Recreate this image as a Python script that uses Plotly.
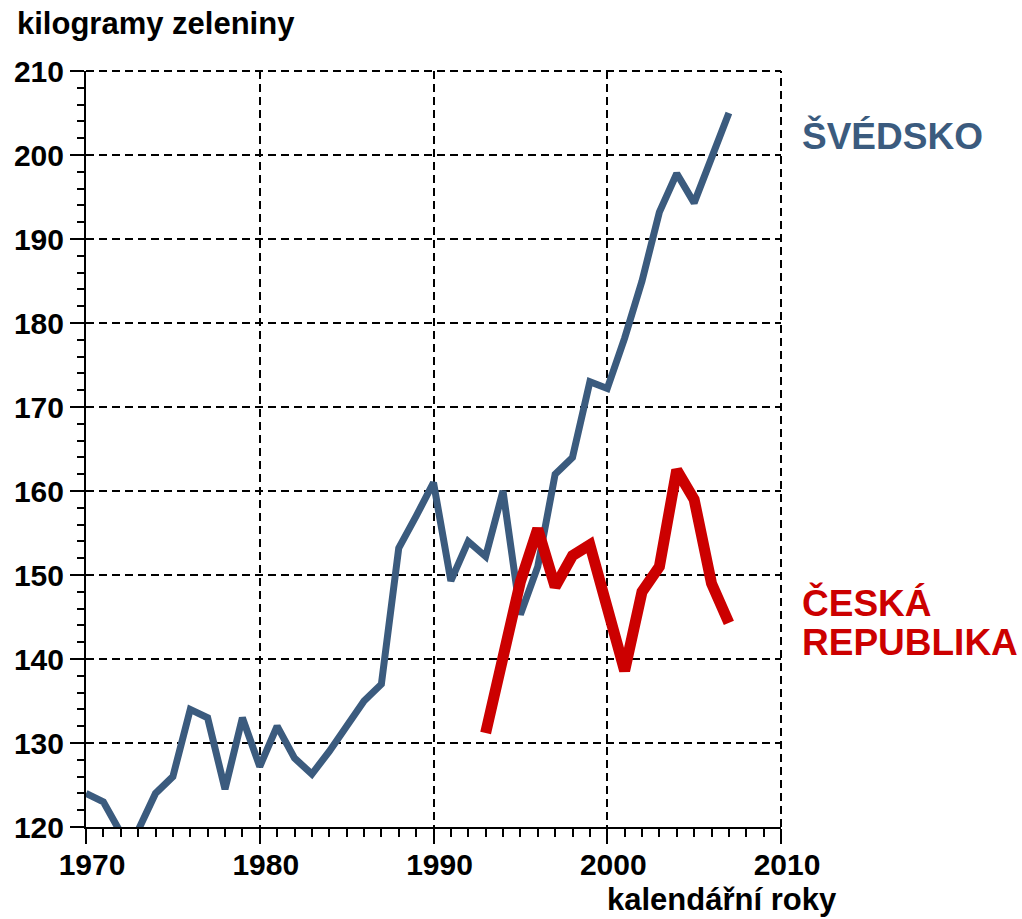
import plotly.graph_objects as go

# Annual vegetable consumption per person (kg)
years_se = list(range(1970, 2008))
sweden = [124, 123, 119.3, 119.6, 124, 126, 134, 133, 124.5, 133,
          127.2, 132, 128.2, 126.3, 129, 132, 135, 137, 153.2, 157,
          161, 149.3, 154, 152.2, 160, 145.3, 151, 162, 164, 173,
          172.2, 178.2, 185, 193.2, 197.8, 194.3, 199.8, 205]

years_cz = list(range(1993, 2008))
czech = [131.2, 140, 149.2, 155.5, 148.6, 152.3, 153.6, 146.1, 138.6, 148,
         151, 162.5, 159, 149, 144.3]

x_ticks = [1970, 1980, 1990, 2000, 2010]
y_ticks = [120, 130, 140, 150, 160, 170, 180, 190, 200, 210]

SE_COLOR = "#3b5b7e"
CZ_COLOR = "#cc0000"
FONT = "Liberation Sans, Arial, sans-serif"
DASH = "8px,5px"

fig = go.Figure()
fig.add_trace(go.Scatter(x=years_se, y=sweden, mode="lines",
                         line=dict(color=SE_COLOR, width=7), showlegend=False))
fig.add_trace(go.Scatter(x=years_cz, y=czech, mode="lines",
                         line=dict(color=CZ_COLOR, width=11), showlegend=False))

grid = dict(showgrid=True, gridcolor="black", gridwidth=2, griddash=DASH,
            showline=True, linecolor="black", linewidth=2, zeroline=False,
            ticks="outside", tickcolor="black", tickwidth=2,
            tickfont=dict(family=FONT, size=30, color="black", weight="bold"),
            automargin=False)

fig.update_xaxes(range=[1970, 2010], tickvals=x_ticks, ticktext=[str(v) for v in x_ticks],
                 ticklen=15, ticklabelshift=6, ticklabelstandoff=-5,
                 minor=dict(dtick=1, ticks="outside", ticklen=8, tickcolor="black",
                            tickwidth=1.5, showgrid=False),
                 **grid)
fig.update_yaxes(range=[120, 210], tickvals=y_ticks, ticktext=[str(v) for v in y_ticks],
                 ticklen=14,
                 minor=dict(dtick=2, ticks="outside", ticklen=7, tickcolor="black",
                            tickwidth=1.5, showgrid=False),
                 **grid)

# grid lines along the top and right edges of the plotting area (unclipped)
fig.add_shape(type="line", xref="paper", yref="paper", x0=0, x1=1, y0=1, y1=1,
              layer="above", line=dict(color="black", width=2, dash=DASH))
fig.add_shape(type="line", xref="paper", yref="paper", x0=1, x1=1, y0=0, y1=1,
              layer="above", line=dict(color="black", width=2, dash=DASH))

def ann(text, x, y, color, size):
    fig.add_annotation(text=text, xref="paper", yref="paper", x=x, y=y,
                       xanchor="left", yanchor="middle", showarrow=False,
                       font=dict(family=FONT, size=size, color=color, weight="bold"))

ann("kilogramy zeleniny", -0.102, 1.0622, "black", 31)
ann("kalendářní roky", 0.7468, -0.0965, "black", 31)
ann("ŠVÉDSKO", 1.0274, 0.914, SE_COLOR, 37)
ann("ČESKÁ", 1.0274, 0.2963, CZ_COLOR, 37)
ann("REPUBLIKA", 1.0274, 0.2434, CZ_COLOR, 37)

fig.update_layout(width=1022, height=919,
                  margin=dict(l=86, r=241, t=71, b=92),
                  plot_bgcolor="white", paper_bgcolor="white",
                  showlegend=False)

fig.write_html("out.html")
